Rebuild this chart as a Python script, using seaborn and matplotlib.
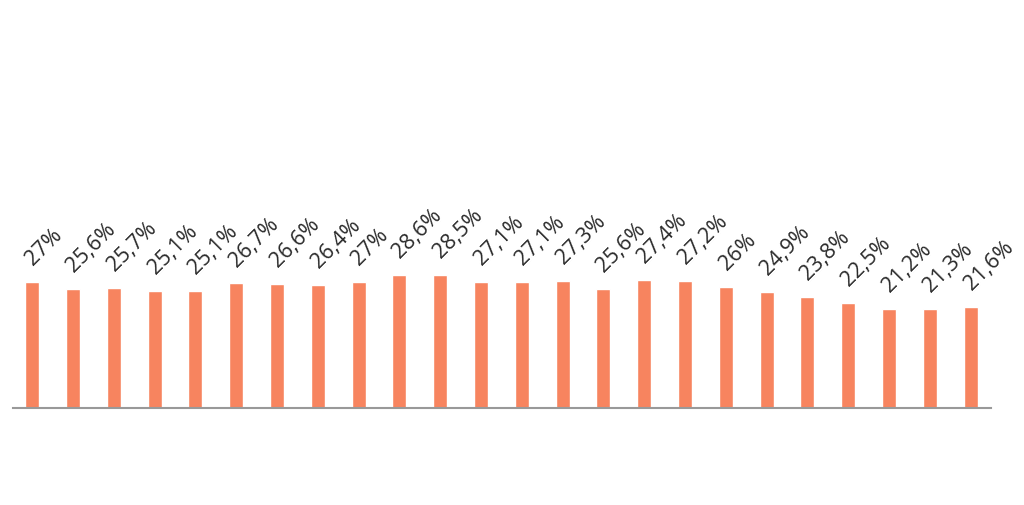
# Bar chart of monthly shares with rotated percent labels (saved as out.png).

import matplotlib
matplotlib.use("Agg")  # no screen here

import matplotlib.pyplot as plt
import pandas as pd
import seaborn as sns

values = [27, 25.6, 25.7, 25.1, 25.1, 26.7, 26.6, 26.4, 27, 28.6, 28.5, 27.1,
          27.1, 27.3, 25.6, 27.4, 27.2, 26, 24.9, 23.8, 22.5, 21.2, 21.3, 21.6]
categories = [str(i + 1) for i in range(len(values))]

sns.set_theme(style="white")
plt.rcParams["font.family"] = ["Open Sans", "DejaVu Sans"]


def fmtPercent(v):
    # 27 -> "27%", 25.6 -> "25,6%"
    if float(v).is_integer():
        return str(int(v)) + "%"
    return str(v).replace(".", ",") + "%"


df = pd.DataFrame({"cat": categories, "value": values})

fig = plt.figure(figsize=(10.24, 5.05), dpi=100)
ax = fig.add_axes([13 / 1024, 97 / 505, 978 / 1024, 400 / 505])

sns.barplot(data=df, x="cat", y="value", color="#F7845F", saturation=1,
            width=0.34, ax=ax)

pxPerUnit = 126 / 27.0
ax.set_ylim(0, 400 / pxPerUnit)
ax.set_xlim(-0.47, len(values) - 0.5)

for i, v in enumerate(values):
    ax.text(i + 0.02, v + 16 / pxPerUnit, fmtPercent(v), rotation=45,
            rotation_mode="anchor", ha="left", va="baseline",
            fontsize=15.5, color="#2a2a2a")

ax.set_xlabel("")
ax.set_ylabel("")
ax.set_xticks([])
ax.set_yticks([])
for side in ["top", "right", "left"]:
    ax.spines[side].set_visible(False)
ax.spines["bottom"].set_color("#999999")
ax.spines["bottom"].set_linewidth(1.5)

fig.savefig("out.png", dpi=100)
plt.close(fig)
